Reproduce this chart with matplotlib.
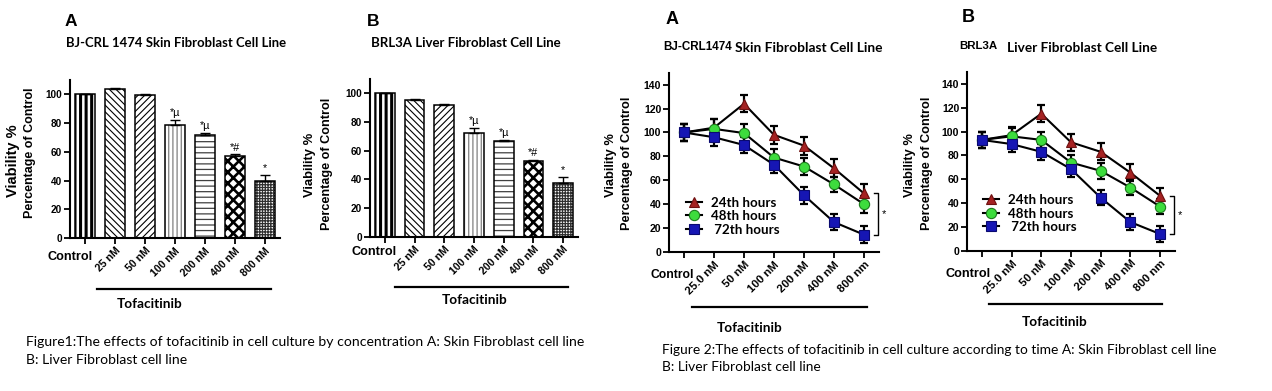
import matplotlib
matplotlib.use('Agg')
import matplotlib.pyplot as plt
from matplotlib.lines import Line2D
import numpy as np

W, H = 1272, 391

# ---------------- data ----------------
bar_categories = ['Control', '25 nM', '50 nM', '100 nM', '200 nM', '400 nM', '800 nM']
skin_bar_values = [100, 103.5, 99.5, 79, 72, 57, 40]
skin_bar_errors = [0.3, 1.0, 0.9, 3.2, 1.2, 1.3, 4.0]
liver_bar_values = [100, 95.5, 92, 72.5, 66.5, 52.5, 37.5]
liver_bar_errors = [0.3, 0.7, 0.7, 3.2, 1.0, 1.0, 4.0]
bar_significance = ['', '', '', '*µ', '*µ', '*#', '*']
bar_yticks = [0, 20, 40, 60, 80, 100]

line_categories = ['Control', '25.0 nM', '50 nM', '100 nM', '200 nM', '400 nM', '800 nm']
series_names = ['24th hours', '48th hours', ' 72th hours']
skin_24h = [100, 104, 124, 98, 89, 70, 49]
skin_48h = [100, 103, 99.5, 79, 71.5, 56.5, 40]
skin_72h = [100, 96, 89.5, 73, 47.5, 25, 14.5]
skin_24h_err = [7, 7.5, 7, 7.5, 7.5, 7.5, 7.5]
skin_48h_err = [7, 8, 7.5, 7, 7, 6.5, 7]
skin_72h_err = [7, 7, 7, 7, 7, 7, 7]
liver_24h = [93, 97, 115, 91, 83, 65.5, 46]
liver_48h = [93, 96, 93, 74, 67, 53, 37]
liver_72h = [93, 89.5, 83, 68.5, 44.5, 24, 14]
liver_24h_err = [7, 7, 7, 7, 7, 7, 7]
liver_48h_err = [7, 7, 7, 6.5, 6.5, 6.5, 6.5]
liver_72h_err = [7, 7, 6.5, 6.5, 6.5, 6.5, 6.5]
line_yticks = [0, 20, 40, 60, 80, 100, 120, 140]

ARIAL = 'Liberation Sans'
ARIAL_N = ['Liberation Sans Narrow', 'Liberation Sans']
CALIBRI = 'Lato'

fig = plt.figure(figsize=(W / 100, H / 100), dpi=100)
fig.patch.set_facecolor('white')
renderer = fig.canvas.get_renderer()


def px_axes(l, t, r, b):
    return fig.add_axes([l / W, 1 - b / H, (r - l) / W, (b - t) / H])


def fit_text(x0, x1, yc, s, family, weight='normal', color='black'):
    t = fig.text(x0 / W, 1 - yc / H, s, fontsize=10, family=family,
                 weight=weight, ha='left', va='center', color=color)
    w = t.get_window_extent(renderer).width
    t.set_fontsize(10 * (x1 - x0) / w)
    return t


def fit_vtext(xc, y0, y1, s, family, weight='bold'):
    t = fig.text(xc / W, 1 - (y0 + y1) / 2 / H, s, fontsize=10, family=family,
                 weight=weight, ha='center', va='center', rotation=90)
    h = t.get_window_extent(renderer).height
    t.set_fontsize(10 * (y1 - y0) / h)
    return t


def hline(x0, x1, y, lw=1.6):
    fig.add_artist(Line2D([x0 / W, x1 / W], [1 - y / H, 1 - y / H],
                          transform=fig.transFigure, color='black', lw=lw))


def style_axes(ax, tick_size):
    for s in ['top', 'right']:
        ax.spines[s].set_visible(False)
    for s in ['left', 'bottom']:
        ax.spines[s].set_linewidth(1.5)
    ax.tick_params(direction='out', length=4, width=1.3, pad=1.5)
    for lab in ax.get_yticklabels():
        lab.set_fontfamily(ARIAL)
        lab.set_fontweight('bold')
        lab.set_fontsize(tick_size)


hatch_styles = [('|||', 'black', 2.2), ('\\\\\\\\\\', 'black', 0.8), ('/////', 'black', 0.8),
                ('||||', '#707070', 0.8), ('---', '#404040', 0.9), ('xxx', 'black', 1.9),
                ('++++++', '#303030', 0.9)]


def bar_panel(ax, values, errors):
    x = np.arange(len(bar_categories))
    for i in range(len(x)):
        hatch, hc, hlw = hatch_styles[i]
        b = ax.bar(x[i], values[i], width=0.66, color='white', edgecolor=hc,
                   linewidth=0, hatch=hatch, zorder=2)
        for p in b:
            if hasattr(p, 'set_hatch_linewidth'):
                p.set_hatch_linewidth(hlw)
    ax.bar(x, values, width=0.66, color='none', edgecolor='black', linewidth=1.1, zorder=3)
    ax.errorbar(x, values, yerr=[np.zeros(len(x)), errors], fmt='none', ecolor='black',
                elinewidth=1.0, capsize=3.5, capthick=1.0, zorder=4)
    for i, s in enumerate(bar_significance):
        if s:
            ax.text(x[i], values[i] + errors[i] + 1.2, s, ha='center', va='bottom',
                    fontsize=7.8, family=ARIAL, color='black')
    ax.set_xlim(-0.5, 6.5)
    ax.set_ylim(0, 110)
    ax.set_yticks(bar_yticks)
    ax.set_xticks(x)
    ax.set_xticklabels([''] + bar_categories[1:], rotation=45, ha='right', va='top',
                       rotation_mode='anchor', family=ARIAL, weight='bold', fontsize=7.6)
    style_axes(ax, 7.2)


def line_panel(ax, s24, s48, s72, e24, e48, e72):
    x = np.arange(len(line_categories))
    specs = [(s24, e24, '^', '#A52222', '#6E1010', 6.8),
             (s48, e48, 'o', '#3DDC3D', '#1C7A1C', 7.4),
             (s72, e72, 's', '#1616B4', '#0A0A70', 6.8)]
    handles = []
    for vals, errs, m, fc, ec, ms in specs:
        ax.errorbar(x, vals, yerr=errs, fmt='none', ecolor='black', elinewidth=1.6,
                    capsize=3, capthick=1.6, zorder=3)
        h, = ax.plot(x, vals, color='black', lw=1.5, marker=m, mfc=fc, mec=ec,
                     mew=0.8, ms=ms, zorder=4)
        handles.append(h)
    ax.set_xlim(-0.5, 6.5)
    ax.set_ylim(0, 150)
    ax.set_yticks(line_yticks)
    ax.set_xticks(x)
    ax.set_xticklabels([''] + line_categories[1:], rotation=45, ha='right', va='top',
                       rotation_mode='anchor', family=ARIAL, weight='bold', fontsize=8.2)
    style_axes(ax, 7.6)
    # significance bracket between 24h and 72h at the highest concentration
    xb0, xb1 = x[-1] + 0.33, x[-1] + 0.47
    ax.plot([xb0, xb1, xb1, xb0], [s24[-1], s24[-1], s72[-1], s72[-1]],
            color='black', lw=1.0, clip_on=False)
    ax.text(x[-1] + 0.58, (s24[-1] + s72[-1]) / 2, '*', ha='left', va='center',
            fontsize=8, family=ARIAL)
    return handles


# ---------------- Figure 1 A ----------------
axA = px_axes(70, 80, 280, 238)
bar_panel(axA, skin_bar_values, skin_bar_errors)
fig.text(65 / W, 1 - 21 / H, 'A', family=ARIAL, weight='bold', fontsize=12.5, ha='left', va='center')
fit_text(66, 286, 43, 'BJ-CRL 1474 Skin Fibroblast Cell Line', CALIBRI, 'bold')
fit_vtext(13, 124, 197, 'Viability %', ARIAL)
fit_vtext(30, 87, 218, 'Percentage of Control', ARIAL)
fit_text(47, 92, 257, 'Control', ARIAL, 'bold')
hline(97, 271, 289)
fit_text(117, 182, 304, 'Tofacitinib', CALIBRI, 'bold')

# ---------------- Figure 1 B ----------------
axB = px_axes(370, 79, 578, 236.7)
bar_panel(axB, liver_bar_values, liver_bar_errors)
fig.text(367 / W, 1 - 21 / H, 'B', family=ARIAL, weight='bold', fontsize=12.5, ha='left', va='center')
fit_text(371, 562, 43, 'BRL3A Liver Fibroblast Cell Line', CALIBRI, 'bold')
fit_vtext(310, 132, 197, 'Viability %', ARIAL)
fit_vtext(327, 98, 230, 'Percentage of Control', ARIAL)
fit_text(352, 397, 252, 'Control', ARIAL, 'bold')
hline(395, 568, 287)
fit_text(442, 507, 300, 'Tofacitinib', CALIBRI, 'bold')

cap1 = fit_text(26, 582, 342, 'Figure1:The effects of tofacitinib in cell culture by concentration A: Skin Fibroblast cell line', CALIBRI)
fig.text(26 / W, 1 - 360 / H, 'B: Liver Fibroblast cell line', family=CALIBRI,
         fontsize=cap1.get_fontsize(), ha='left', va='center')

# ---------------- Figure 2 A ----------------
legend_kw = dict(loc='center left', frameon=False, borderpad=0, borderaxespad=0,
                 handlelength=1.2, handletextpad=0.65, labelspacing=0.12,
                 prop={'family': CALIBRI, 'weight': 'bold', 'size': 9.6})
axC = px_axes(669, 72.7, 879, 252)
hC = line_panel(axC, skin_24h, skin_48h, skin_72h, skin_24h_err, skin_48h_err, skin_72h_err)
axC.legend(hC, series_names, bbox_to_anchor=(0.081, 0.2), **legend_kw)
fig.text(666 / W, 1 - 19 / H, 'A', family=ARIAL, weight='bold', fontsize=13, ha='left', va='center')
fit_text(663, 731, 47, 'BJ-CRL1474', ARIAL_N, 'bold')
fit_text(735, 882, 48, 'Skin Fibroblast Cell Line', CALIBRI, 'bold')
fit_vtext(611, 133, 197, 'Viability %', ARIAL)
fit_vtext(627, 97, 230, 'Percentage of Control', ARIAL)
fit_text(650, 693, 275, 'Control', ARIAL, 'bold')
hline(692, 867, 307)
fit_text(717, 782, 328, 'Tofacitinib', CALIBRI, 'bold')

# ---------------- Figure 2 B ----------------
axD = px_axes(967, 72, 1175, 250.7)
hD = line_panel(axD, liver_24h, liver_48h, liver_72h, liver_24h_err, liver_48h_err, liver_72h_err)
axD.legend(hD, series_names, bbox_to_anchor=(0.077, 0.208), **legend_kw)
fig.text(962 / W, 1 - 18 / H, 'B', family=ARIAL, weight='bold', fontsize=13, ha='left', va='center')
fit_text(959, 997, 46, 'BRL3A', ARIAL_N, 'bold')
fit_text(1007, 1157, 48, 'Liver Fibroblast Cell Line', CALIBRI, 'bold')
fit_vtext(910, 133, 197, 'Viability %', ARIAL)
fit_vtext(927, 97, 230, 'Percentage of Control', ARIAL)
fit_text(945, 990, 274, 'Control', ARIAL, 'bold')
hline(989, 1162, 304)
fit_text(1022, 1087, 322, 'Tofacitinib', CALIBRI, 'bold')

cap2 = fit_text(662, 1215, 350, 'Figure 2:The effects of tofacitinib in cell culture according to time A: Skin Fibroblast cell line', CALIBRI)
fig.text(662 / W, 1 - 367 / H, 'B: Liver Fibroblast cell line', family=CALIBRI,
         fontsize=cap2.get_fontsize(), ha='left', va='center')

fig.savefig('out.png', dpi=100, facecolor='white')
